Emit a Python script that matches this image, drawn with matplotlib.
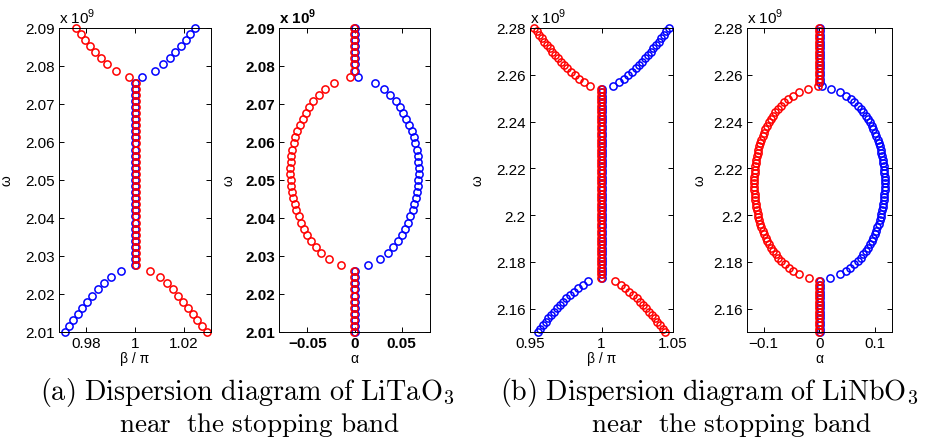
import matplotlib
matplotlib.use('Agg')
import matplotlib.pyplot as plt
from matplotlib.ticker import FuncFormatter

plt.rcParams['font.family'] = ['Liberation Sans', 'DejaVu Sans']
plt.rcParams['mathtext.fontset'] = 'custom'
plt.rcParams['mathtext.rm'] = 'Liberation Sans'
plt.rcParams['mathtext.bf'] = 'Liberation Sans:bold'

# ---------------- LiTaO3 : omega sweep (x 1e9) ----------------
w_a = [2.0100, 2.0116, 2.0132, 2.0148, 2.0164, 2.0180, 2.0196, 2.0212, 2.0228, 2.0244,
       2.0260, 2.0276, 2.0292, 2.0308, 2.0324, 2.0340, 2.0356, 2.0372, 2.0388, 2.0404,
       2.0420, 2.0436, 2.0452, 2.0468, 2.0484, 2.0500, 2.0516, 2.0532, 2.0548, 2.0564,
       2.0580, 2.0596, 2.0612, 2.0628, 2.0644, 2.0660, 2.0676, 2.0692, 2.0708, 2.0724,
       2.0740, 2.0756, 2.0772, 2.0788, 2.0804, 2.0820, 2.0836, 2.0852, 2.0868, 2.0884,
       2.0900]

beta_a_blue = ([0.9713, 0.9731, 0.9748, 0.9766, 0.9785, 0.9805, 0.9826, 0.9849, 0.9873, 0.9901, 0.9944]
               + [0.9999] * 31
               + [1.0027, 1.0082, 1.0114, 1.0141, 1.0165, 1.0186, 1.0207, 1.0226, 1.0245])
beta_a_red = ([1.0294, 1.0273, 1.0254, 1.0237, 1.0218, 1.0197, 1.0177, 1.0154, 1.0129, 1.0102, 1.0061]
              + [1.0003] * 31
              + [0.9974, 0.9921, 0.9887, 0.9860, 0.9838, 0.9818, 0.9797, 0.9778, 0.9759])

alpha_a_red = ([-0.0004] * 11
               + [-0.0145, -0.0273, -0.0351, -0.0411, -0.0457, -0.0500, -0.0535, -0.0567,
                  -0.0592, -0.0617, -0.0635, -0.0652, -0.0663, -0.0674, -0.0677, -0.0681,
                  -0.0681, -0.0677, -0.0670, -0.0660, -0.0645, -0.0628, -0.0606, -0.0582,
                  -0.0550, -0.0518, -0.0479, -0.0436, -0.0379, -0.0312, -0.0216]
               + [-0.0043] + [-0.0004] * 8)
alpha_a_blue = ([0.0002] * 11
                + [0.0145, 0.0273, 0.0351, 0.0411, 0.0457, 0.0500, 0.0535, 0.0567,
                   0.0592, 0.0617, 0.0635, 0.0652, 0.0663, 0.0674, 0.0677, 0.0681,
                   0.0681, 0.0677, 0.0670, 0.0660, 0.0645, 0.0628, 0.0606, 0.0582,
                   0.0550, 0.0518, 0.0479, 0.0436, 0.0379, 0.0312, 0.0216]
                + [0.0040] + [0.0002] * 8)

# ---------------- LiNbO3 : omega sweep (x 1e9) ----------------
w_b = [2.1500, 2.1514, 2.1529, 2.1543, 2.1558, 2.1572, 2.1587, 2.1601, 2.1616, 2.1630,
       2.1644, 2.1659, 2.1673, 2.1688, 2.1702, 2.1717, 2.1731, 2.1746, 2.1760, 2.1774,
       2.1789, 2.1803, 2.1818, 2.1832, 2.1847, 2.1861, 2.1876, 2.1890, 2.1904, 2.1919,
       2.1933, 2.1948, 2.1962, 2.1977, 2.1991, 2.2006, 2.2020, 2.2034, 2.2049, 2.2063,
       2.2078, 2.2092, 2.2107, 2.2121, 2.2136, 2.2150, 2.2164, 2.2179, 2.2193, 2.2208,
       2.2222, 2.2237, 2.2251, 2.2266, 2.2280, 2.2294, 2.2309, 2.2323, 2.2338, 2.2352,
       2.2367, 2.2381, 2.2396, 2.2410, 2.2424, 2.2439, 2.2453, 2.2468, 2.2482, 2.2497,
       2.2511, 2.2526, 2.2540, 2.2554, 2.2569, 2.2583, 2.2598, 2.2612, 2.2627, 2.2641,
       2.2656, 2.2670, 2.2684, 2.2699, 2.2713, 2.2728, 2.2742, 2.2757, 2.2771, 2.2786,
       2.2800]

beta_b_blue = ([0.9556, 0.9573, 0.9591, 0.9610, 0.9629, 0.9648, 0.9669, 0.9690, 0.9711, 0.9732,
                0.9755, 0.9781, 0.9809, 0.9837, 0.9867, 0.9907]
               + [1.0003] * 57
               + [1.0082, 1.0123, 1.0157, 1.0187, 1.0214, 1.0239, 1.0262, 1.0284, 1.0305,
                  1.0325, 1.0344, 1.0363, 1.0382, 1.0400, 1.0418, 1.0436, 1.0454, 1.0472])
beta_b_red = ([1.0444, 1.0427, 1.0409, 1.0390, 1.0371, 1.0352, 1.0331, 1.0310, 1.0289, 1.0268,
               1.0245, 1.0219, 1.0191, 1.0163, 1.0133, 1.0093]
              + [0.9998] * 57
              + [0.9918, 0.9877, 0.9843, 0.9813, 0.9786, 0.9761, 0.9738, 0.9716, 0.9695,
                 0.9675, 0.9656, 0.9637, 0.9618, 0.9600, 0.9582, 0.9564, 0.9546, 0.9528])

alpha_b_red = ([-0.0005] * 16
               + [-0.0191, -0.0360, -0.0469, -0.0553, -0.0624, -0.0685, -0.0739, -0.0787,
                  -0.0830, -0.0869, -0.0904, -0.0936, -0.0966, -0.0993, -0.1017, -0.1040,
                  -0.1060, -0.1078, -0.1095, -0.1109, -0.1122, -0.1134, -0.1143, -0.1152,
                  -0.1158, -0.1163, -0.1167, -0.1169, -0.1170, -0.1169, -0.1167, -0.1164,
                  -0.1159, -0.1152, -0.1144, -0.1134, -0.1123, -0.1110, -0.1096, -0.1079,
                  -0.1061, -0.1041, -0.1019, -0.0995, -0.0968, -0.0938, -0.0906, -0.0871,
                  -0.0832, -0.0789, -0.0742, -0.0689, -0.0628, -0.0558, -0.0475, -0.0368,
                  -0.0206]
               + [-0.0030] + [-0.0005] * 17)
alpha_b_blue = ([0.0005] * 16
                + [0.0191, 0.0360, 0.0469, 0.0553, 0.0624, 0.0685, 0.0739, 0.0787,
                   0.0830, 0.0869, 0.0904, 0.0936, 0.0966, 0.0993, 0.1017, 0.1040,
                   0.1060, 0.1078, 0.1095, 0.1109, 0.1122, 0.1134, 0.1143, 0.1152,
                   0.1158, 0.1163, 0.1167, 0.1169, 0.1170, 0.1169, 0.1167, 0.1164,
                   0.1159, 0.1152, 0.1144, 0.1134, 0.1123, 0.1110, 0.1096, 0.1079,
                   0.1061, 0.1041, 0.1019, 0.0995, 0.0968, 0.0938, 0.0906, 0.0871,
                   0.0832, 0.0789, 0.0742, 0.0689, 0.0628, 0.0558, 0.0475, 0.0368,
                   0.0206]
                + [0.0040] + [0.0005] * 17)

xt_a_beta = [0.98, 1, 1.02]
xt_a_alpha = [-0.05, 0, 0.05]
yt_a = [2.01, 2.02, 2.03, 2.04, 2.05, 2.06, 2.07, 2.08, 2.09]
xt_b_beta = [0.95, 1, 1.05]
xt_b_alpha = [-0.1, 0, 0.1]
yt_b = [2.16, 2.18, 2.2, 2.22, 2.24, 2.26, 2.28]


def fmt(v, pos):
    return ('%g' % round(v, 6)).replace('-', '\u2212')


fig = plt.figure(figsize=(9.3, 4.39), dpi=100)
bot, hgt = 0.2415, 0.6925
ax1 = fig.add_axes([0.0634, bot, 0.1634, hgt])
ax2 = fig.add_axes([0.3000, bot, 0.1624, hgt])
ax3 = fig.add_axes([0.5699, bot, 0.1538, hgt])
ax4 = fig.add_axes([0.8032, bot, 0.1559, hgt])

mk = dict(ls='none', marker='o', ms=5.2, mfc='none', mew=1.1, clip_on=False)

panels = [
    (ax1, beta_a_blue, beta_a_red, w_a, (0.969, 1.031), (2.01, 2.09), xt_a_beta, yt_a, 'β / π', -0.30, False),
    (ax2, alpha_a_blue, alpha_a_red, w_a, (-0.08, 0.08), (2.01, 2.09), xt_a_alpha, yt_a, 'α', -0.29, True),
    (ax3, beta_b_blue, beta_b_red, w_b, (0.95, 1.05), (2.15, 2.28), xt_b_beta, yt_b, 'β / π', -0.315, False),
    (ax4, alpha_b_blue, alpha_b_red, w_b, (-0.13, 0.13), (2.15, 2.28), xt_b_alpha, yt_b, 'α', -0.276, False),
]

for ax, xb, xr, w, xl, yl, xt, yt, xlab, ylx, bold in panels:
    ax.plot(xb, w, color='b', **mk)
    ax.plot(xr, w, color='r', **mk)
    ax.set_xlim(*xl)
    ax.set_ylim(*yl)
    ax.set_xticks(xt)
    ax.set_yticks(yt)
    ax.xaxis.set_major_formatter(FuncFormatter(fmt))
    ax.yaxis.set_major_formatter(FuncFormatter(fmt))
    ax.tick_params(direction='in', length=3.5, width=0.7, labelsize=11,
                   top=True, right=True, pad=3)
    for s in ax.spines.values():
        s.set_linewidth(0.7)
    ax.set_xlabel(xlab, fontsize=10)
    ax.xaxis.set_label_coords(0.5, -0.062)
    ax.set_ylabel('ω', fontsize=10)
    ax.yaxis.set_label_coords(ylx, 0.5)
    if bold:
        for t in ax.get_xticklabels() + ax.get_yticklabels():
            t.set_fontweight('bold')
        ax.text(0.0, 1.008, r'x 10$^{\mathbf{9}}$', transform=ax.transAxes,
                fontsize=11, fontweight='bold', ha='left', va='bottom')
    else:
        ax.text(0.0, 1.008, r'x 10$^{9}$', transform=ax.transAxes,
                fontsize=11, ha='left', va='bottom')

# sub-captions under each pair of panels
cap = dict(ha='center', va='center', math_fontfamily='cm')
fig.text(0.266, 0.105, r'$\mathrm{(a)\ Dispersion\ diagram\ of\ LiTaO_3}$', fontsize=20.3, **cap)
fig.text(0.279, 0.032, r'$\mathrm{near\ \ the\ stopping\ band}$', fontsize=19.5, **cap)
fig.text(0.762, 0.105, r'$\mathrm{(b)\ Dispersion\ diagram\ of\ LiNbO_3}$', fontsize=20.3, **cap)
fig.text(0.787, 0.032, r'$\mathrm{near\ \ the\ stopping\ band}$', fontsize=19.5, **cap)

fig.savefig('out.png', dpi=100)
